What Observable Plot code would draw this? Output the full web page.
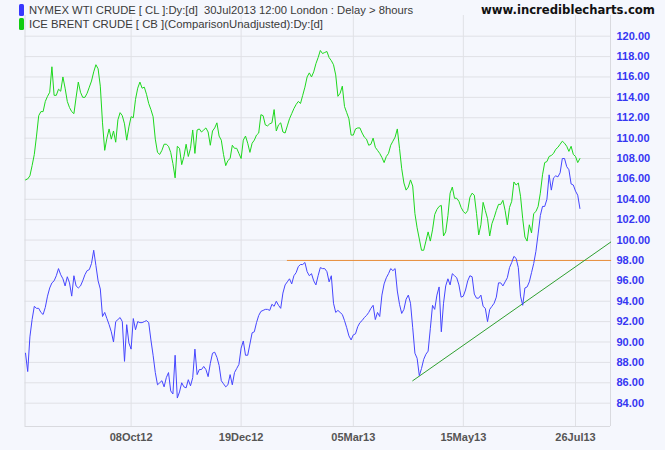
<!DOCTYPE html>
<html>
<head>
<meta charset="utf-8">
<script src="https://cdn.jsdelivr.net/npm/d3@7"></script>
<script src="https://cdn.jsdelivr.net/npm/@observablehq/plot@0.6"></script>
<style>
  html, body { margin: 0; padding: 0; background: #f5f7fd; }
  #wrap { position: relative; width: 665px; height: 450px; background: #f5f7fd; overflow: hidden; }
  #chart { position: absolute; left: 0; top: 0; }
  #legend { position: absolute; left: 0; top: 0; }
  .sw { position: absolute; left: 19px; width: 5px; height: 12px; border-radius: 1.5px; }
</style>
</head>
<body>
<div id="wrap">
  <div id="chart"></div>
  <div class="sw" style="top:3.5px;background:#3838ff"></div>
  <div class="sw" style="top:18px;background:#11cc11"></div>
  <svg id="legend" width="665" height="32" xmlns="http://www.w3.org/2000/svg">
    <text x="29" y="13.5" font-family="Liberation Sans, Arial, sans-serif" font-size="11.5" fill="#3a3a3a" textLength="384" lengthAdjust="spacingAndGlyphs" xml:space="preserve">NYMEX WTI CRUDE [ CL ]:Dy:[d]  30Jul2013 12:00 London : Delay &gt; 8hours</text>
    <text x="29" y="28.2" font-family="Liberation Sans, Arial, sans-serif" font-size="11.5" fill="#3a3a3a" textLength="294" lengthAdjust="spacingAndGlyphs">ICE BRENT CRUDE [ CB ](ComparisonUnadjusted):Dy:[d]</text>
    <text x="481" y="13.5" font-family="DejaVu Sans, Verdana, sans-serif" font-weight="bold" font-size="11.5" fill="#111" textLength="174" lengthAdjust="spacingAndGlyphs">www.incrediblecharts.com</text>
  </svg>
</div>
<script>
// Daily closes, one value per trading session (index 0 = early Aug 2012)
const wti = [
  88.9, 87.1, 90.5, 92.2, 93.5, 93.3, 93.3, 92.9, 92.7, 93.4, 94.5, 95.3, 95.8, 96.0, 96.5, 97.2, 96.6, 96.2, 95.5, 96.4,
  95.8, 94.5, 96.5, 95.5, 95.3, 95.5, 96.0, 96.6, 97.0, 97.1, 97.7, 99.0, 97.5, 96.0, 95.2, 92.5, 92.9, 92.3, 91.7, 91.0,
  90.0, 92.0, 92.2, 92.4, 92.0, 88.1, 91.7, 89.9, 89.3, 92.3, 91.2, 92.0, 91.9, 91.9, 92.0, 92.1, 91.9, 90.2, 88.7, 87.0,
  85.8, 86.0, 86.2, 85.6, 86.5, 87.0, 85.2, 84.9, 88.7, 84.5, 85.1, 86.0, 85.6, 85.5, 86.3, 85.7, 86.5, 89.3, 86.8, 87.3,
  87.3, 87.6, 87.3, 86.6, 87.9, 88.9, 89.0, 88.5, 87.7, 86.2, 85.9, 85.6, 85.8, 86.8, 85.8, 87.0, 87.4, 87.8, 89.4, 90.1,
  88.7, 88.7, 89.8, 90.9, 91.0, 91.9, 92.6, 93.0, 93.1, 93.2, 93.2, 93.1, 93.7, 93.5, 94.0, 93.6, 93.3, 94.8, 95.6, 95.9,
  96.2, 95.7, 96.5, 96.8, 97.4, 97.6, 97.6, 97.8, 96.9, 96.5, 96.7, 96.0, 95.6, 96.5, 97.3, 97.2, 97.2, 96.9, 95.9, 96.5,
  93.8, 92.9, 93.1, 92.9, 92.7, 92.1, 91.4, 90.6, 90.2, 90.7, 90.8, 91.5, 91.9, 92.1, 92.4, 92.6, 92.9, 93.3, 93.6, 92.2,
  92.9, 92.5, 94.6, 95.7, 96.3, 96.7, 97.2, 97.0, 97.2, 95.0, 93.7, 92.8, 93.2, 94.2, 94.6, 93.8, 91.4, 88.9, 88.4, 86.7,
  87.4, 88.3, 88.8, 89.1, 91.3, 93.6, 93.2, 94.6, 95.4, 91.0, 93.8, 95.5, 96.2, 95.6, 96.7, 96.5, 96.3, 95.6, 94.4, 94.5,
  95.1, 96.0, 96.5, 96.4, 94.7, 94.3, 94.3, 94.6, 93.5, 93.3, 92.0, 93.2, 93.5, 93.8, 94.4, 95.8, 95.8, 95.5, 95.9, 96.3,
  97.3, 97.8, 98.4, 98.2, 97.3, 94.5, 93.6, 95.3, 95.4, 95.9, 96.8, 97.7, 98.9, 100.6, 102.4, 103.3, 103.3, 104.0, 106.4, 104.9,
  106.1, 106.3, 106.2, 106.6, 108.0, 108.0, 107.2, 106.9, 105.5, 105.4, 104.8, 104.4, 103.1
];
const brent = [
  105.9, 106.0, 106.3, 107.3, 108.4, 110.2, 112.2, 112.6, 112.6, 113.6, 114.1, 114.5, 117.0, 114.2, 114.2, 114.8, 114.6, 116.0, 114.9, 113.6,
  113.0, 112.6, 112.4, 114.0, 115.5, 114.5, 114.0, 114.0, 114.4, 115.0, 115.6, 116.5, 117.2, 116.8, 115.1, 111.5, 108.8, 110.0, 110.9, 109.9,
  110.7, 109.6, 111.8, 112.5, 112.2, 111.4, 109.8, 111.1, 112.1, 112.0, 113.8, 114.9, 115.5, 114.9, 115.0, 114.3, 113.4, 112.8, 112.1, 109.9,
  108.6, 108.4, 108.8, 109.4, 109.4, 109.2, 108.6, 107.5, 106.1, 109.2, 109.0, 107.4, 108.2, 109.4, 108.2, 109.0, 110.8, 108.5, 110.8, 110.9,
  110.6, 110.8, 111.0, 110.6, 109.3, 110.7, 111.0, 111.5, 110.2, 109.8, 108.4, 107.3, 107.8, 108.0, 109.3, 109.0, 109.0, 108.5, 108.0, 109.8,
  110.2, 109.5, 108.6, 109.5, 109.8, 110.3, 110.5, 112.3, 112.2, 111.3, 111.2, 111.4, 111.5, 112.8, 110.7, 111.3, 111.5, 110.6, 110.5, 111.2,
  111.9, 112.4, 112.9, 113.3, 113.6, 113.4, 114.2, 115.0, 116.0, 116.4, 116.0, 116.5, 117.3, 117.9, 118.6, 118.3, 118.4, 118.5, 117.9, 117.6,
  117.2, 116.2, 114.1, 114.4, 115.1, 113.1, 112.5, 111.9, 110.3, 110.3, 110.9, 111.0, 111.0, 110.5, 110.1, 109.9, 109.3, 109.4, 110.0, 109.1,
  108.8, 108.5, 108.1, 107.6, 108.2, 108.5, 109.3, 109.7, 110.1, 110.9, 109.0, 107.0, 105.6, 104.9, 105.2, 105.9, 105.3, 102.6, 101.2, 100.1,
  99.0, 99.0, 99.9, 100.8, 99.9, 101.0, 102.5, 103.0, 103.3, 103.4, 100.4, 100.8, 102.4, 104.6, 105.2, 104.1, 104.1, 103.8, 103.2, 102.8,
  102.6, 102.9, 104.2, 104.6, 104.4, 102.6, 100.5, 101.5, 103.7, 102.9, 102.1, 100.4, 101.6, 102.2, 102.9, 103.5, 103.5, 103.9, 102.9, 101.5,
  103.2, 103.8, 105.7, 105.4, 105.6, 104.3, 102.1, 100.3, 99.9, 101.5, 100.7, 102.6, 102.8, 103.3, 104.6, 106.4, 107.6, 107.7, 108.2, 108.3,
  108.5, 108.9, 109.1, 109.4, 109.7, 109.5, 109.2, 108.7, 109.2, 108.4, 108.2, 107.6, 108.0
];

// Axis ticks
const yTicks = [84, 86, 88, 90, 92, 94, 96, 98, 100, 102, 104, 106, 108, 110, 112, 114, 116, 118, 120];
const xTickSessions = [48, 98, 149, 199, 250];
const xTickLabels = ["08Oct12", "19Dec12", "05Mar13", "15May13", "26Jul13"];

// Drawn annotation lines (session index, price)
const resistanceX = [119, 266];
const resistanceY = [98, 98];
const trendX = [176, 266];
const trendY = [86.2, 99.8];

// Visible range
const xDomain = [-0.23, 265.9];
const yDomain = [81.71, 122.03];

const resistance = resistanceX.map((x, i) => ({x, y: resistanceY[i]}));
const trend = trendX.map((x, i) => ({x, y: trendY[i]}));

const chart = Plot.plot({
  width: 665,
  height: 450,
  marginLeft: 24.5,
  marginRight: 55,
  marginTop: 15,
  marginBottom: 24,
  style: {background: "#f5f7fd", fontFamily: "'Liberation Sans', Arial, sans-serif", fontSize: "11px"},
  x: {domain: xDomain},
  y: {domain: yDomain},
  marks: [
    Plot.gridY(yTicks, {stroke: "#e0e1e6", strokeOpacity: 1}),
    Plot.gridX(xTickSessions, {stroke: "#e0e1e6", strokeOpacity: 1}),
    Plot.ruleX([xDomain[0], xDomain[1]], {stroke: "#d9dadf"}),
    Plot.ruleY([yDomain[0]], {stroke: "#d9dadf"}),
    Plot.axisY(yTicks, {anchor: "right", tickSize: 0, tickPadding: 6, tickFormat: d3.format(".2f"), fill: "#3636f2", fontWeight: "bold", label: null}),
    Plot.axisX(xTickSessions, {anchor: "bottom", tickSize: 0, tickPadding: 7, tickFormat: d => xTickLabels[xTickSessions.indexOf(d)], fill: "#555", fontWeight: "bold", label: null}),
    Plot.line(resistance, {x: "x", y: "y", stroke: "#e88e3a", strokeWidth: 1}),
    Plot.line(trend, {x: "x", y: "y", stroke: "#2f9f2f", strokeWidth: 1}),
    Plot.lineY(brent, {stroke: "#1ed81e", strokeWidth: 1}),
    Plot.lineY(wti, {stroke: "#4646ff", strokeWidth: 1})
  ]
});
document.getElementById("chart").appendChild(chart);
</script>
</body>
</html>
